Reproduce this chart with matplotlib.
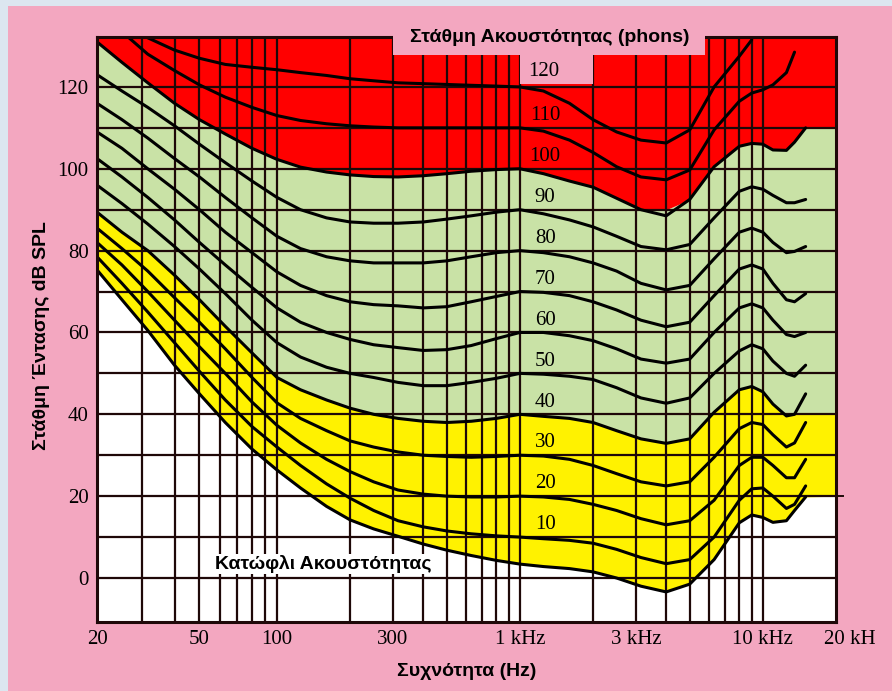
import numpy as np
import matplotlib
matplotlib.use("Agg")
import matplotlib.pyplot as plt
from matplotlib.patches import Rectangle
from matplotlib.ticker import NullLocator

# ---------------- data ----------------
freqs = [20, 25, 31.5, 40, 50, 63, 80, 100,
         125, 160, 200, 250, 315, 400, 500, 630, 800,
         1000, 1250, 1600, 2000, 2500, 3150, 4000, 5000, 6300, 8000,
         9000, 10000, 11000, 12500, 13500, 15000]

threshold = [75.3, 68, 60.5, 52, 45, 38, 31.5, 26.4,
             22, 17.5, 14.2, 12, 10.2, 8.3, 6.8, 5.5, 4.3,
             3.4, 2.8, 2.3, 1.5, 0, -2, -3.4, -1.5, 4.5, 13.5,
             15.4, 14.8, 13.6, 14, 16.5, 19.8]
phon10 = [78.5, 72, 65, 57.5, 50.5, 43.5, 37, 32,
          27.5, 23, 19.5, 16.5, 14, 12.5, 11.5, 10.8, 10.3,
          10, 9.6, 9.2, 8.5, 7, 5, 3.5, 4.5, 10, 19,
          21.8, 22, 20, 17, 18, 22.5]
phon20 = [82, 76.5, 70, 63, 56.5, 50, 43, 37.3,
          33, 29, 26, 23.5, 21.5, 20.5, 20, 19.8, 19.8,
          20, 19.8, 19.2, 18, 16.5, 14.5, 13, 14, 19, 27.5,
          29.5, 29.5, 27.5, 24.5, 24.5, 29]
phon30 = [85.5, 80.5, 75, 68.5, 62.5, 56, 49, 42.8,
          39, 36, 33.5, 32, 30.8, 30, 29.7, 29.5, 29.7,
          30, 29.8, 29, 27.5, 25.5, 23.5, 22.5, 23.5, 29.5, 36.5,
          38, 37.5, 35, 32, 33, 38]
phon40 = [89.4, 84.5, 80, 74, 68, 61.5, 55, 49,
          46, 43.5, 41.5, 40, 39, 38.3, 38, 38.3, 39,
          40, 39.5, 39, 38, 36, 34, 32.9, 34, 40.5, 46,
          46.8, 45.5, 42.5, 39.6, 40, 45]
phon50 = [96, 91.5, 86.5, 81, 75.5, 69.5, 63, 57.5,
          54, 51.5, 50, 49, 47.8, 47, 47, 47.8, 48.8,
          50, 49.8, 49.3, 48.5, 46.5, 44, 42.7, 44, 50, 55.5,
          57, 56, 53, 50, 49.3, 52]
phon60 = [102.5, 98, 93, 87.5, 82, 76.5, 71, 66,
          62.5, 60, 58.3, 57, 56.3, 55.6, 55.8, 56.8, 58.5,
          60, 60, 59.2, 58, 56, 53.5, 52.5, 53.5, 60, 66,
          67, 66, 63, 59.5, 59, 60]
phon70 = [109, 105, 100, 95, 90, 84.5, 79.5, 74.8,
          71.5, 69, 67.5, 66.8, 66.5, 66, 66.3, 67.5, 68.8,
          70, 69.8, 69, 67.5, 65.5, 63, 61.4, 62.5, 69, 75.5,
          76.5, 75.5, 72, 68, 67.5, 69.5]
phon80 = [116, 112, 107.5, 102.5, 98, 93, 88, 83.5,
          80.5, 78.5, 77.5, 77, 77, 77, 77.5, 78.5, 79.5,
          80, 79.5, 78.5, 77, 75, 72, 70.4, 71.5, 78, 84.5,
          85.5, 84.5, 82, 79.5, 79.8, 81]
phon90 = [123, 119, 115, 110.5, 106, 101.5, 97, 93,
          90, 88, 87, 86.7, 86.7, 87, 87.7, 88.5, 89.4,
          90, 89, 87.5, 85.8, 83.5, 81, 80.2, 81.5, 88, 94.5,
          95.6, 95, 93.5, 91.7, 91.7, 92.5]
phon100 = [131, 126, 121, 116, 112, 108.5, 105, 102.3,
           100.4, 99.2, 98.5, 98.1, 98, 98.3, 98.8, 99.4, 99.8,
           100, 98.8, 97, 95.5, 92.8, 90, 88.5, 92.5, 100.5, 105.5,
           106.2, 106, 104.6, 104.5, 106.5, 110]
phon110 = [138, 133.5, 128, 124, 120.5, 117.5, 115, 113,
           111.8, 111, 110.5, 110.2, 110, 110, 110, 110, 110,
           110, 109.2, 107, 104, 100.5, 98, 97.3, 99.7, 109.5, 116.5,
           118.5, 119.3, 120.5, 123.5, 128.5, None]
phon120 = [140, 136, 132, 129, 127, 125.5, 124.8, 124.2,
           123.5, 122.8, 122, 121.5, 121, 120.8, 120.6, 120.4, 120.2,
           120, 119, 116, 112, 109, 107, 106.3, 109.5, 120, 127.5,
           131.5, None, None, None, None, None]

phon_levels = [10, 20, 30, 40, 50, 60, 70, 80, 90, 100, 110, 120]
phon_curves = [phon10, phon20, phon30, phon40, phon50, phon60,
               phon70, phon80, phon90, phon100, phon110, phon120]

x_tick_vals = [20, 50, 100, 300, 1000, 3000, 10000]
x_tick_labels = ["20", "50", "100", "300", "1 kHz", "3 kHz", "10 kHz"]
y_tick_vals = [0, 20, 40, 60, 80, 100, 120]

# ---------------- scale (printed chart grid is slightly stretched below 100 Hz) ----
L20 = np.log10(20.0)


def fwd(f):
    f = np.asarray(f, dtype=float)
    lf = np.log10(np.clip(f, 1e-6, None))
    return np.where(lf < 2, (lf - L20) * 180.0 / (2 - L20), 180.0 + (lf - 2) * 243.0)


def inv(u):
    u = np.asarray(u, dtype=float)
    return np.where(u < 180, 10 ** (L20 + u * (2 - L20) / 180.0), 10 ** (2 + (u - 180.0) / 243.0))


# ---------------- figure ----------------
W, H = 892, 691
PINK = "#F3A7C0"
fig = plt.figure(figsize=(W / 100, H / 100), dpi=100)
fig.patch.set_facecolor("#DCE6F0")
fig.add_artist(Rectangle((8 / W, 0), 1, 1 - 6 / H, transform=fig.transFigure,
                         facecolor=PINK, edgecolor="none", zorder=-5))

L, R, T, B = 97, 836, 37, 622
ax = fig.add_axes([L / W, 1 - B / H, (R - L) / W, (B - T) / H])
ax.set_xscale("function", functions=(fwd, inv))
ax.set_xlim(20, 20000)
ax.set_ylim(-10.75, 132.2)
ax.set_facecolor("white")

f = np.array(freqs, dtype=float)
thr = np.array(threshold, dtype=float)
c40 = np.array(phon40, dtype=float)
c100 = np.array(phon100, dtype=float)

fx = np.append(f, 20000)
y_lo = np.append(thr, 20)
y_mid = np.append(np.where(f > 12000, 40, c40), 40)
y_hi = np.append(np.maximum(c100, 90), 110)

ax.fill_between(fx, y_lo, y_mid, color="#FFF200", lw=0, zorder=1)
ax.fill_between(fx, y_mid, y_hi, color="#C9E2A6", lw=0, zorder=1)
ax.fill_between(fx, y_hi, 140, color="#FF0000", lw=0, zorder=1)

grid_col = "#1E0808"
for v in range(0, 130, 10):
    ax.axhline(v, color=grid_col, lw=1.6, zorder=2)
ax.axhline(20, xmin=0, xmax=1.0095, color=grid_col, lw=1.4, zorder=2, clip_on=False)
vgrid = [30, 40, 50, 60, 70, 80, 90, 100, 200, 300, 400, 500, 600, 700, 800, 900,
         1000, 2000, 3000, 4000, 5000, 6000, 7000, 8000, 9000, 10000]
for v in vgrid:
    ax.axvline(v, color=grid_col, lw=1.6, zorder=2)

ax.plot(f, thr, color="black", lw=2.2, zorder=3, solid_capstyle="round")
for curve in phon_curves:
    ax.plot(f, np.array(curve, dtype=float), color="black", lw=2.2, zorder=3,
            solid_capstyle="round")

for s in ax.spines.values():
    s.set_color("#1E0808")
    s.set_linewidth(2.2)
    s.set_zorder(4)

serif = "Liberation Serif"
SZ = 15
ax.set_xticks(x_tick_vals)
ax.set_xticklabels(x_tick_labels, fontfamily=serif, fontsize=SZ)
ax.xaxis.set_minor_locator(NullLocator())
ax.set_yticks(y_tick_vals)
ax.set_yticklabels([str(v) for v in y_tick_vals], fontfamily=serif, fontsize=SZ)
ax.tick_params(axis="both", length=0)
ax.tick_params(axis="x", pad=6)
ax.tick_params(axis="y", pad=6)
ax.annotate("20 kH", xy=(20000, 0), xycoords=("data", "axes fraction"),
            xytext=(10, -6), textcoords="offset points", ha="center", va="top",
            fontfamily=serif, fontsize=SZ, annotation_clip=False)

# title box & "120" label box
def px_rect(x0, y0, x1, y1, **kw):
    fig.add_artist(Rectangle((x0 / W, 1 - y1 / H), (x1 - x0) / W, (y1 - y0) / H,
                             transform=fig.transFigure, **kw))

px_rect(393, 28, 705, 55, facecolor=PINK, edgecolor="none", zorder=3)
px_rect(520, 55, 593, 84, facecolor=PINK, edgecolor="none", zorder=3)
fig.text(550 / W, 1 - 38 / H, "Στάθμη Ακουστότητας (phons)",
         ha="center", va="center", fontfamily="Liberation Sans", fontweight="bold",
         fontsize=14, zorder=7)

# phon labels (the 120 label sits on the pink box, so it is drawn above it)
for lv in phon_levels:
    if lv == 120:
        fig.text(544 / W, 1 - 71 / H, str(lv), ha="center", va="center",
                 fontfamily=serif, fontsize=SZ, zorder=7)
    else:
        ax.text(1270, lv + 3, str(lv), ha="center", va="center", fontfamily=serif,
                fontsize=SZ, zorder=6)

ax.text(57.4, 3.4, "Κατώφλι Ακουστότητας", ha="left", va="center",
        fontfamily="Liberation Sans", fontweight="bold", fontsize=14, zorder=6,
        bbox=dict(facecolor="white", edgecolor="none", pad=1.0))

fig.text(467 / W, 1 - 672 / H, "Συχνότητα (Hz)", ha="center", va="center",
         fontfamily="Liberation Sans", fontweight="bold", fontsize=14)
fig.text(42 / W, 1 - 336 / H, "Στάθμη Έντασης dB SPL", ha="center", va="center",
         rotation=90, fontfamily="Liberation Sans", fontweight="bold", fontsize=14)

fig.savefig("out.png", dpi=100, facecolor=fig.get_facecolor())
